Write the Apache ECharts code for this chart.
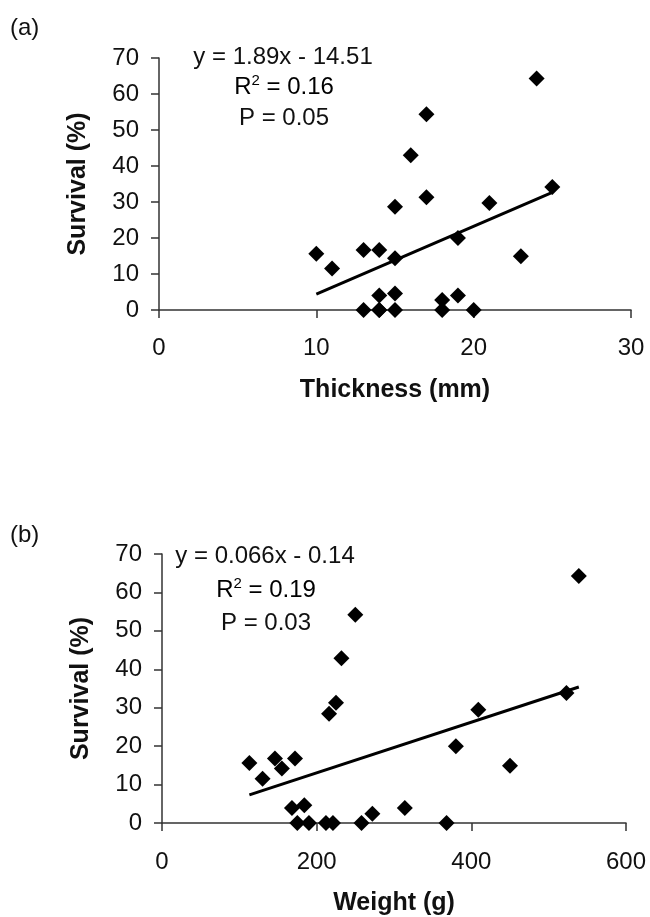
<!DOCTYPE html>
<html>
<head>
<meta charset="utf-8">
<script src="https://cdn.jsdelivr.net/npm/echarts@6/dist/echarts.min.js"></script>
<style>
  html, body { margin: 0; padding: 0; background: #fff; }
  #chart { width: 650px; height: 917px; }
</style>
</head>
<body>
<div id="chart"></div>
<script>
// (a) survival vs thickness, [mm, %]
const thicknessPoints = [
  [10, 15.6], [11, 11.5], [13, 16.7], [14, 16.7], [15, 28.7], [15, 14.4],
  [15, 4.6], [15, 0], [13, 0], [14, 0], [14, 0], [14, 4.0], [16, 43.0],
  [17, 54.4], [17, 31.3], [18, 2.8], [18, 0], [19, 4.0], [19, 20.0],
  [20, 0], [21, 29.7], [23, 14.9], [24, 64.3], [25, 34.2],
]
const thicknessTrend = [[10, 4.4], [25, 32.7]]

// (b) survival vs weight, [g, %]
const weightPoints = [
  [113, 15.6], [130, 11.5], [146, 16.8], [155, 14.2], [172, 16.8], [168, 3.9],
  [184, 4.6], [175, 0], [190, 0], [212, 0], [221, 0], [216, 28.4],
  [225, 31.3], [232, 42.9], [250, 54.2], [258, 0], [272, 2.4], [314, 3.9],
  [368, 0], [380, 20.0], [409, 29.5], [450, 14.9], [523, 33.8], [539, 64.3],
]
const weightTrend = [[113, 7.3], [539, 35.4]]

const panelLabels = ['(a)', '(b)']
const xNames = ['Thickness (mm)', 'Weight (g)']
const yName = 'Survival (%)'
const statsA = ['y = 1.89x - 14.51', '0.16', 'P = 0.05']
const statsB = ['y = 0.066x - 0.14', '0.19', 'P = 0.03']

const font = 'Liberation Sans, Arial, sans-serif'
const axisColor = '#333'

function xAxis(gridIndex, name, max, interval, margin) {
  return {
    gridIndex,
    type: 'value',
    min: 0,
    max,
    interval,
    name,
    nameLocation: 'middle',
    nameGap: 68,
    nameTextStyle: { fontFamily: font, fontSize: 25, fontWeight: 'bold', color: '#111' },
    axisLine: { onZero: false, lineStyle: { color: axisColor, width: 1.5 } },
    axisTick: { show: true, length: 8, lineStyle: { color: axisColor, width: 1.5 } },
    axisLabel: { margin, fontFamily: font, fontSize: 24, color: '#111' },
    splitLine: { show: false },
  }
}

function yAxis(gridIndex) {
  return {
    gridIndex,
    type: 'value',
    min: 0,
    max: 70,
    interval: 10,
    name: yName,
    nameLocation: 'middle',
    nameGap: 68,
    nameTextStyle: { fontFamily: font, fontSize: 25, fontWeight: 'bold', color: '#111' },
    axisLine: { show: true, onZero: false, lineStyle: { color: axisColor, width: 1.5 } },
    axisTick: { show: true, length: 8, lineStyle: { color: axisColor, width: 1.5 } },
    axisLabel: { margin: 20, fontFamily: font, fontSize: 24, color: '#111' },
    splitLine: { show: false },
  }
}

function statText(x, y, text) {
  return {
    type: 'text',
    x,
    y,
    style: {
      text,
      font: '24px ' + font,
      fill: '#111',
      align: 'center',
      verticalAlign: 'middle',
    },
  }
}

function r2Text(x, y, value) {
  return {
    type: 'text',
    x,
    y,
    style: {
      text: '{a|R}{s|2}{a| = ' + value + '}',
      align: 'center',
      verticalAlign: 'middle',
      rich: {
        a: { fontFamily: font, fontSize: 24, color: '#111', lineHeight: 28 },
        s: { fontFamily: font, fontSize: 15, color: '#111', lineHeight: 28, verticalAlign: 'top', padding: [0, 0, 12, 0] },
      },
    },
  }
}

function scatter(xi, data) {
  return {
    type: 'scatter',
    xAxisIndex: xi,
    yAxisIndex: xi,
    data,
    symbol: 'diamond',
    symbolSize: 16,
    itemStyle: { color: '#000', opacity: 1 },
    z: 3,
  }
}

function trend(xi, data) {
  return {
    type: 'line',
    xAxisIndex: xi,
    yAxisIndex: xi,
    data,
    symbol: 'none',
    lineStyle: { color: '#000', width: 3 },
    z: 2,
  }
}

const chart = echarts.init(document.getElementById('chart'), null, { renderer: 'canvas' })

chart.setOption({
  backgroundColor: '#fff',
  animation: false,
  grid: [
    { left: 159, top: 58, width: 472, height: 252 },
    { left: 162, top: 554, width: 464, height: 270 },
  ],
  xAxis: [
    xAxis(0, xNames[0], 30, 10, 26),
    xAxis(1, xNames[1], 600, 200, 27),
  ],
  yAxis: [yAxis(0), yAxis(1)],
  series: [
    trend(0, thicknessTrend),
    scatter(0, thicknessPoints),
    trend(1, weightTrend),
    scatter(1, weightPoints),
  ],
  graphic: [
    { type: 'text', x: 10, y: 28, style: { text: panelLabels[0], font: '24px ' + font, fill: '#111', verticalAlign: 'middle' } },
    { type: 'text', x: 10, y: 535, style: { text: panelLabels[1], font: '24px ' + font, fill: '#111', verticalAlign: 'middle' } },
    statText(283, 57, statsA[0]),
    r2Text(284, 87, statsA[1]),
    statText(284, 118, statsA[2]),
    statText(265, 556, statsB[0]),
    r2Text(266, 590, statsB[1]),
    statText(266, 623, statsB[2]),
  ],
})
</script>
</body>
</html>
